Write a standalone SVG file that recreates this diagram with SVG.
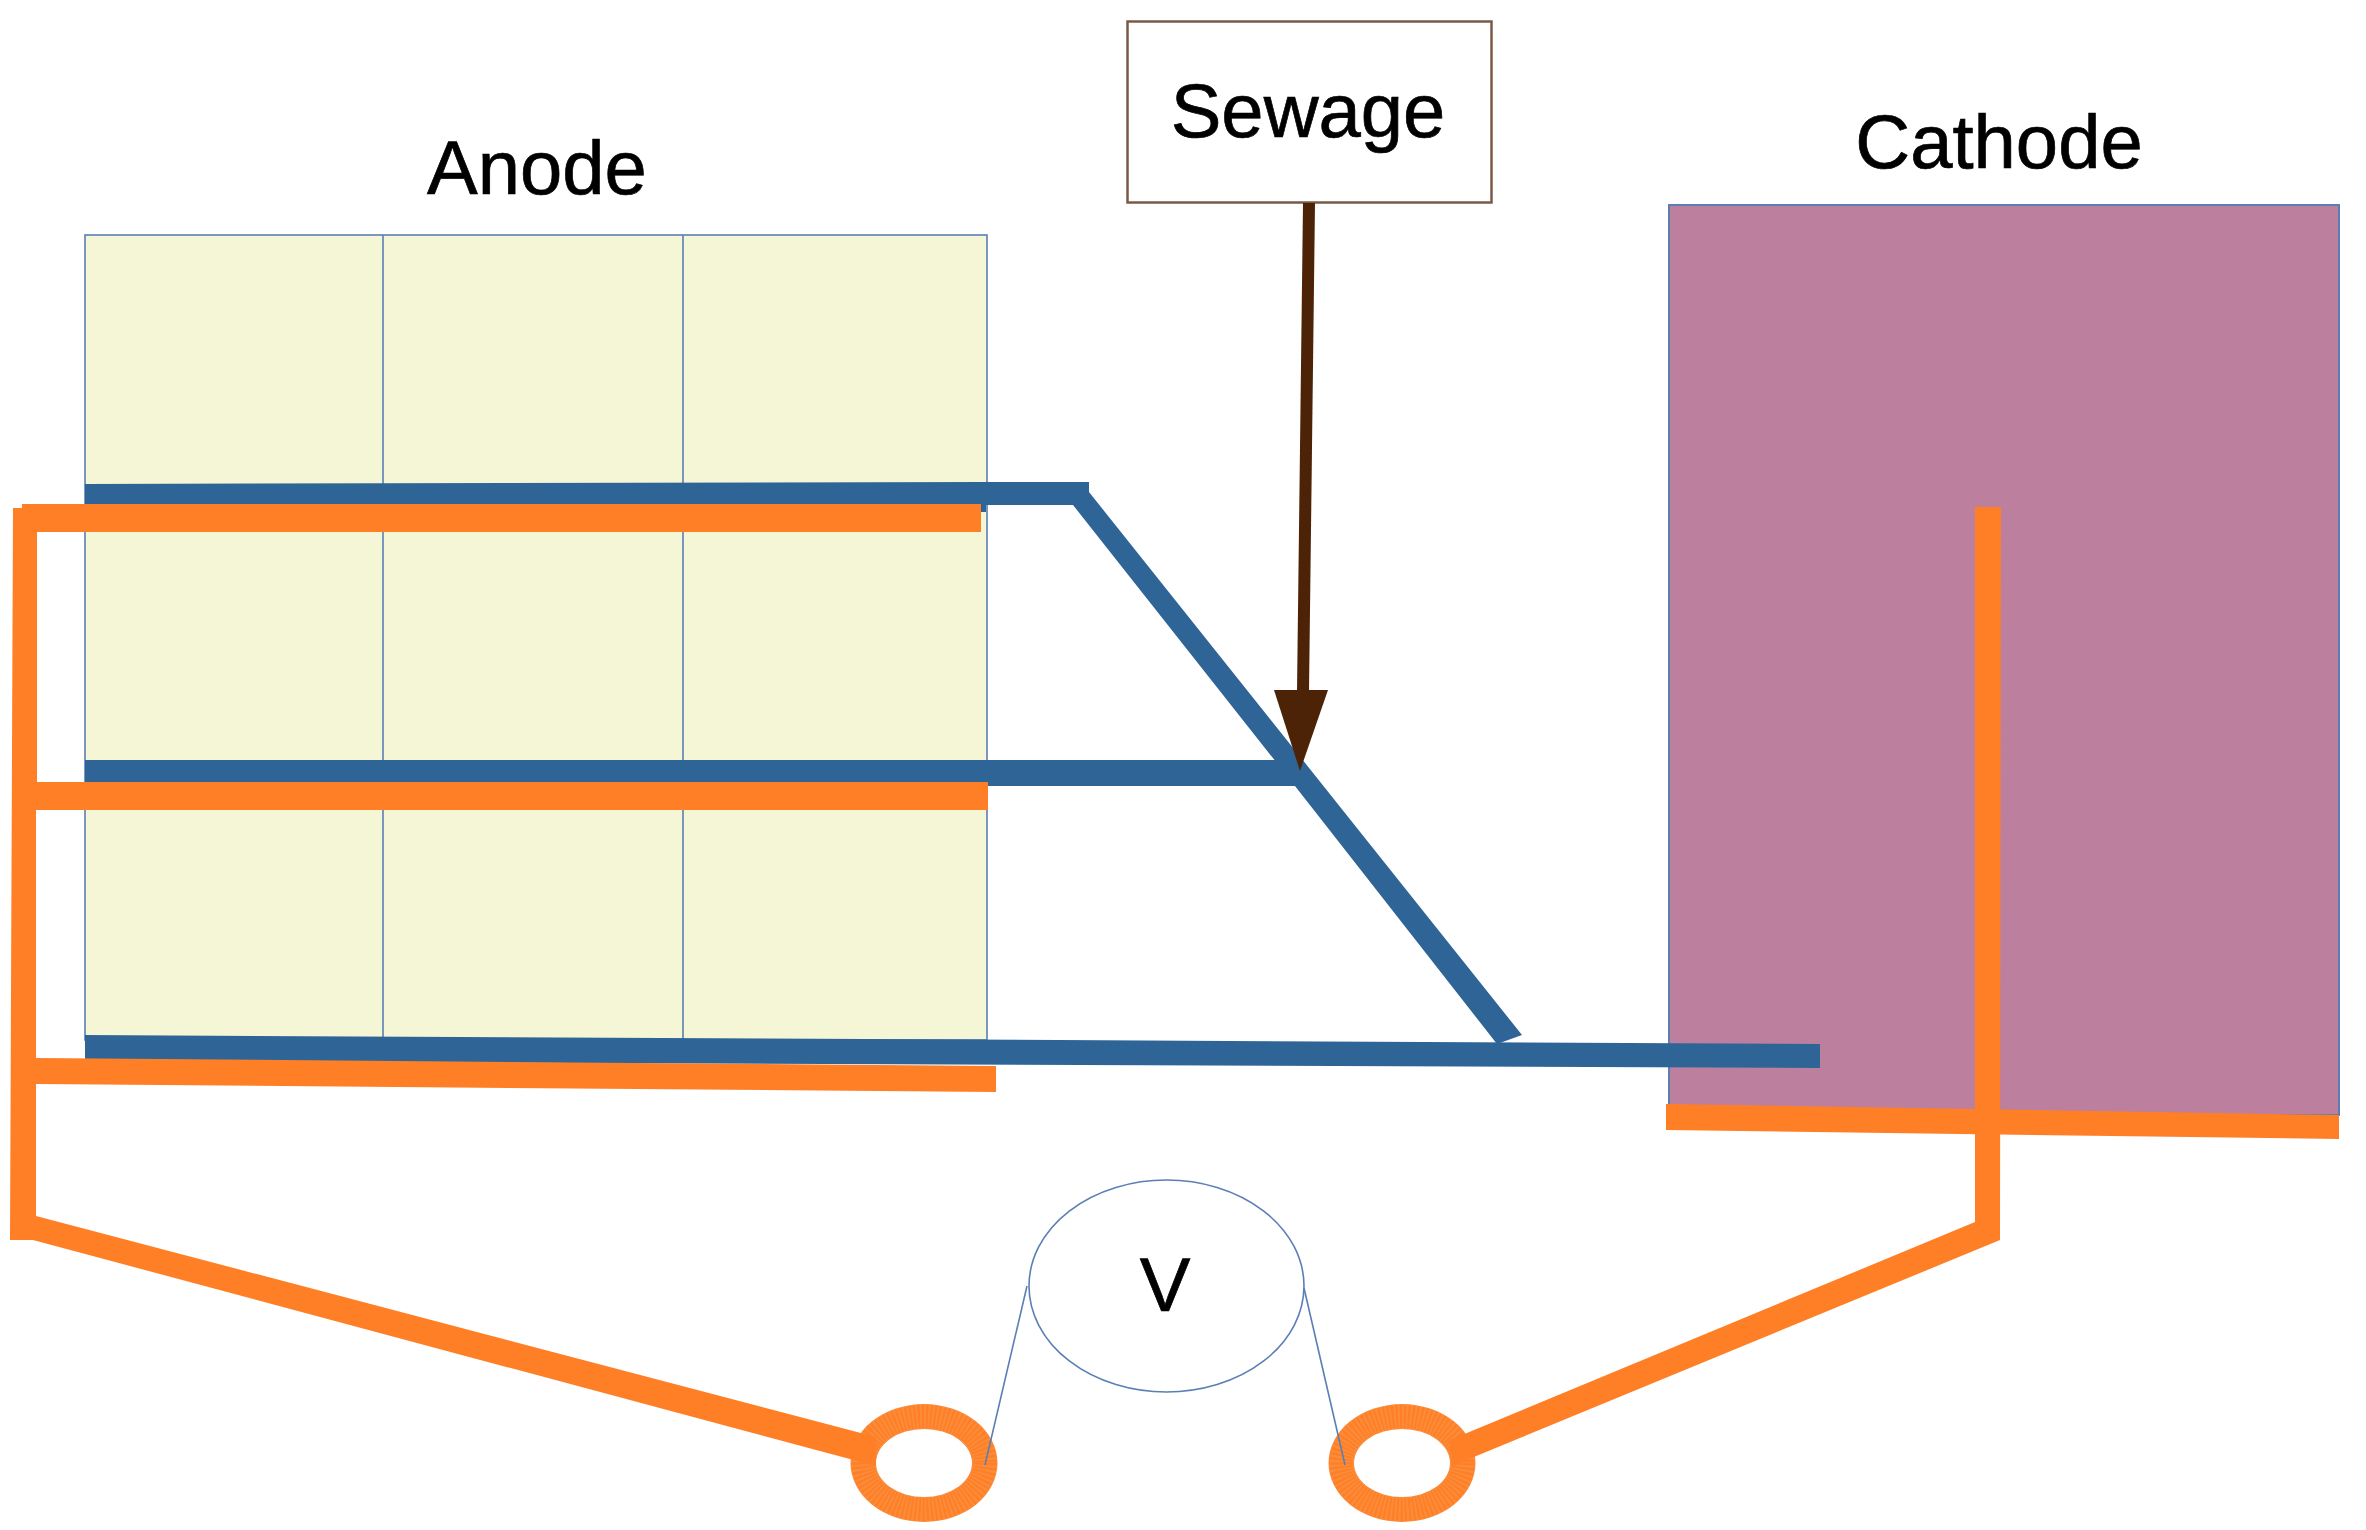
<svg xmlns="http://www.w3.org/2000/svg" width="2366" height="1530" viewBox="0 0 2366 1530">
<style>
.t{font-family:"Liberation Sans",Arial,sans-serif;font-size:76px;fill:#000;stroke:#000;stroke-width:.7;text-anchor:middle}
.thin{fill:none;stroke:#5b7fb5;stroke-width:1.6}
.b{fill:#2f6496}
.o{fill:#fe7f26}
.ring{fill:#fc8b3a;fill-rule:evenodd}
.ringd{fill:none;stroke:#fe7f26;stroke-width:23;stroke-dasharray:2 2}
</style>
<defs>
<path id="ringshape" class="ring" d="M-73.500 0a73.500 59 0 1 0 147 0a73.500 59 0 1 0-147 0ZM-48 0a48 34 0 1 1 96 0a48 34 0 1 1-96 0Z"/>
<ellipse id="ringtex" class="ringd" cx="0" cy="0" rx="61" ry="46.500"/>
</defs>
<rect width="2366" height="1530" fill="#fff"/>
<g id="anode">
<rect x="85" y="235" width="902" height="805" fill="#f5f6d6" stroke="#5b7fb5" stroke-width="1.6"/>
<line class="thin" x1="383" y1="235" x2="383" y2="1040"/>
<line class="thin" x1="683" y1="235" x2="683" y2="1040"/>
<text class="t" x="537" y="194">Anode</text>
</g>
<g id="cathode">
<rect x="1669" y="205" width="670" height="910" fill="#bd7f9e" stroke="#5b7fb5" stroke-width="2"/>
<text class="t" x="1999" y="168">Cathode</text>
</g>
<g id="sewage">
<rect x="1127.500" y="21.500" width="364" height="181" fill="#fff" stroke="#7a5a47" stroke-width="2.500"/>
<text class="t" x="1308" y="137">Sewage</text>
</g>
<g id="voltmeter">
<ellipse class="thin" cx="1166.500" cy="1286" rx="137.500" ry="106" fill="#fff"/>
<text class="t" x="1165" y="1311">V</text>
</g>
<g id="terminal-left">
<use href="#ringshape" x="924" y="1463"/>
<use href="#ringtex" x="924" y="1463"/>
</g>
<g id="terminal-right">
<use href="#ringshape" x="1402" y="1463"/>
<use href="#ringtex" x="1402" y="1463"/>
</g>
<g id="connectors">
<polygon class="b" points="85,484 986,482 1089,482 1089,492 1522,1035 1497,1044 1295,786 1073,505 986,505 986,512 85,512"/>
<polygon class="b" points="85,760 1290,760 1310,786 85,786"/>
<polygon class="b" points="85,1035 1820,1044 1820,1068 85,1061"/>
<polygon class="o" points="22,504 981,504 981,532 37,532 37,782 988,782 988,810 36,810 36,1058 996,1066 996,1092 36,1084 36,1216 876,1437 876,1466 33,1240 10,1240 13,508 22,508"/>
<polygon class="o" points="1666,1104 2339,1115 2339,1139 1666,1130"/>
<polygon class="o" points="1975,507 2001,507 2000,1240 1452,1466 1450,1440 1975,1222"/>
<line x1="1309" y1="203" x2="1303" y2="692" stroke="#4d2307" stroke-width="12"/>
<polygon points="1274,690 1328,690 1300,771" fill="#4d2307"/>
<line class="thin" x1="1027" y1="1286" x2="985" y2="1465"/>
<line class="thin" x1="1304" y1="1288" x2="1345" y2="1465"/>
</g>
</svg>
